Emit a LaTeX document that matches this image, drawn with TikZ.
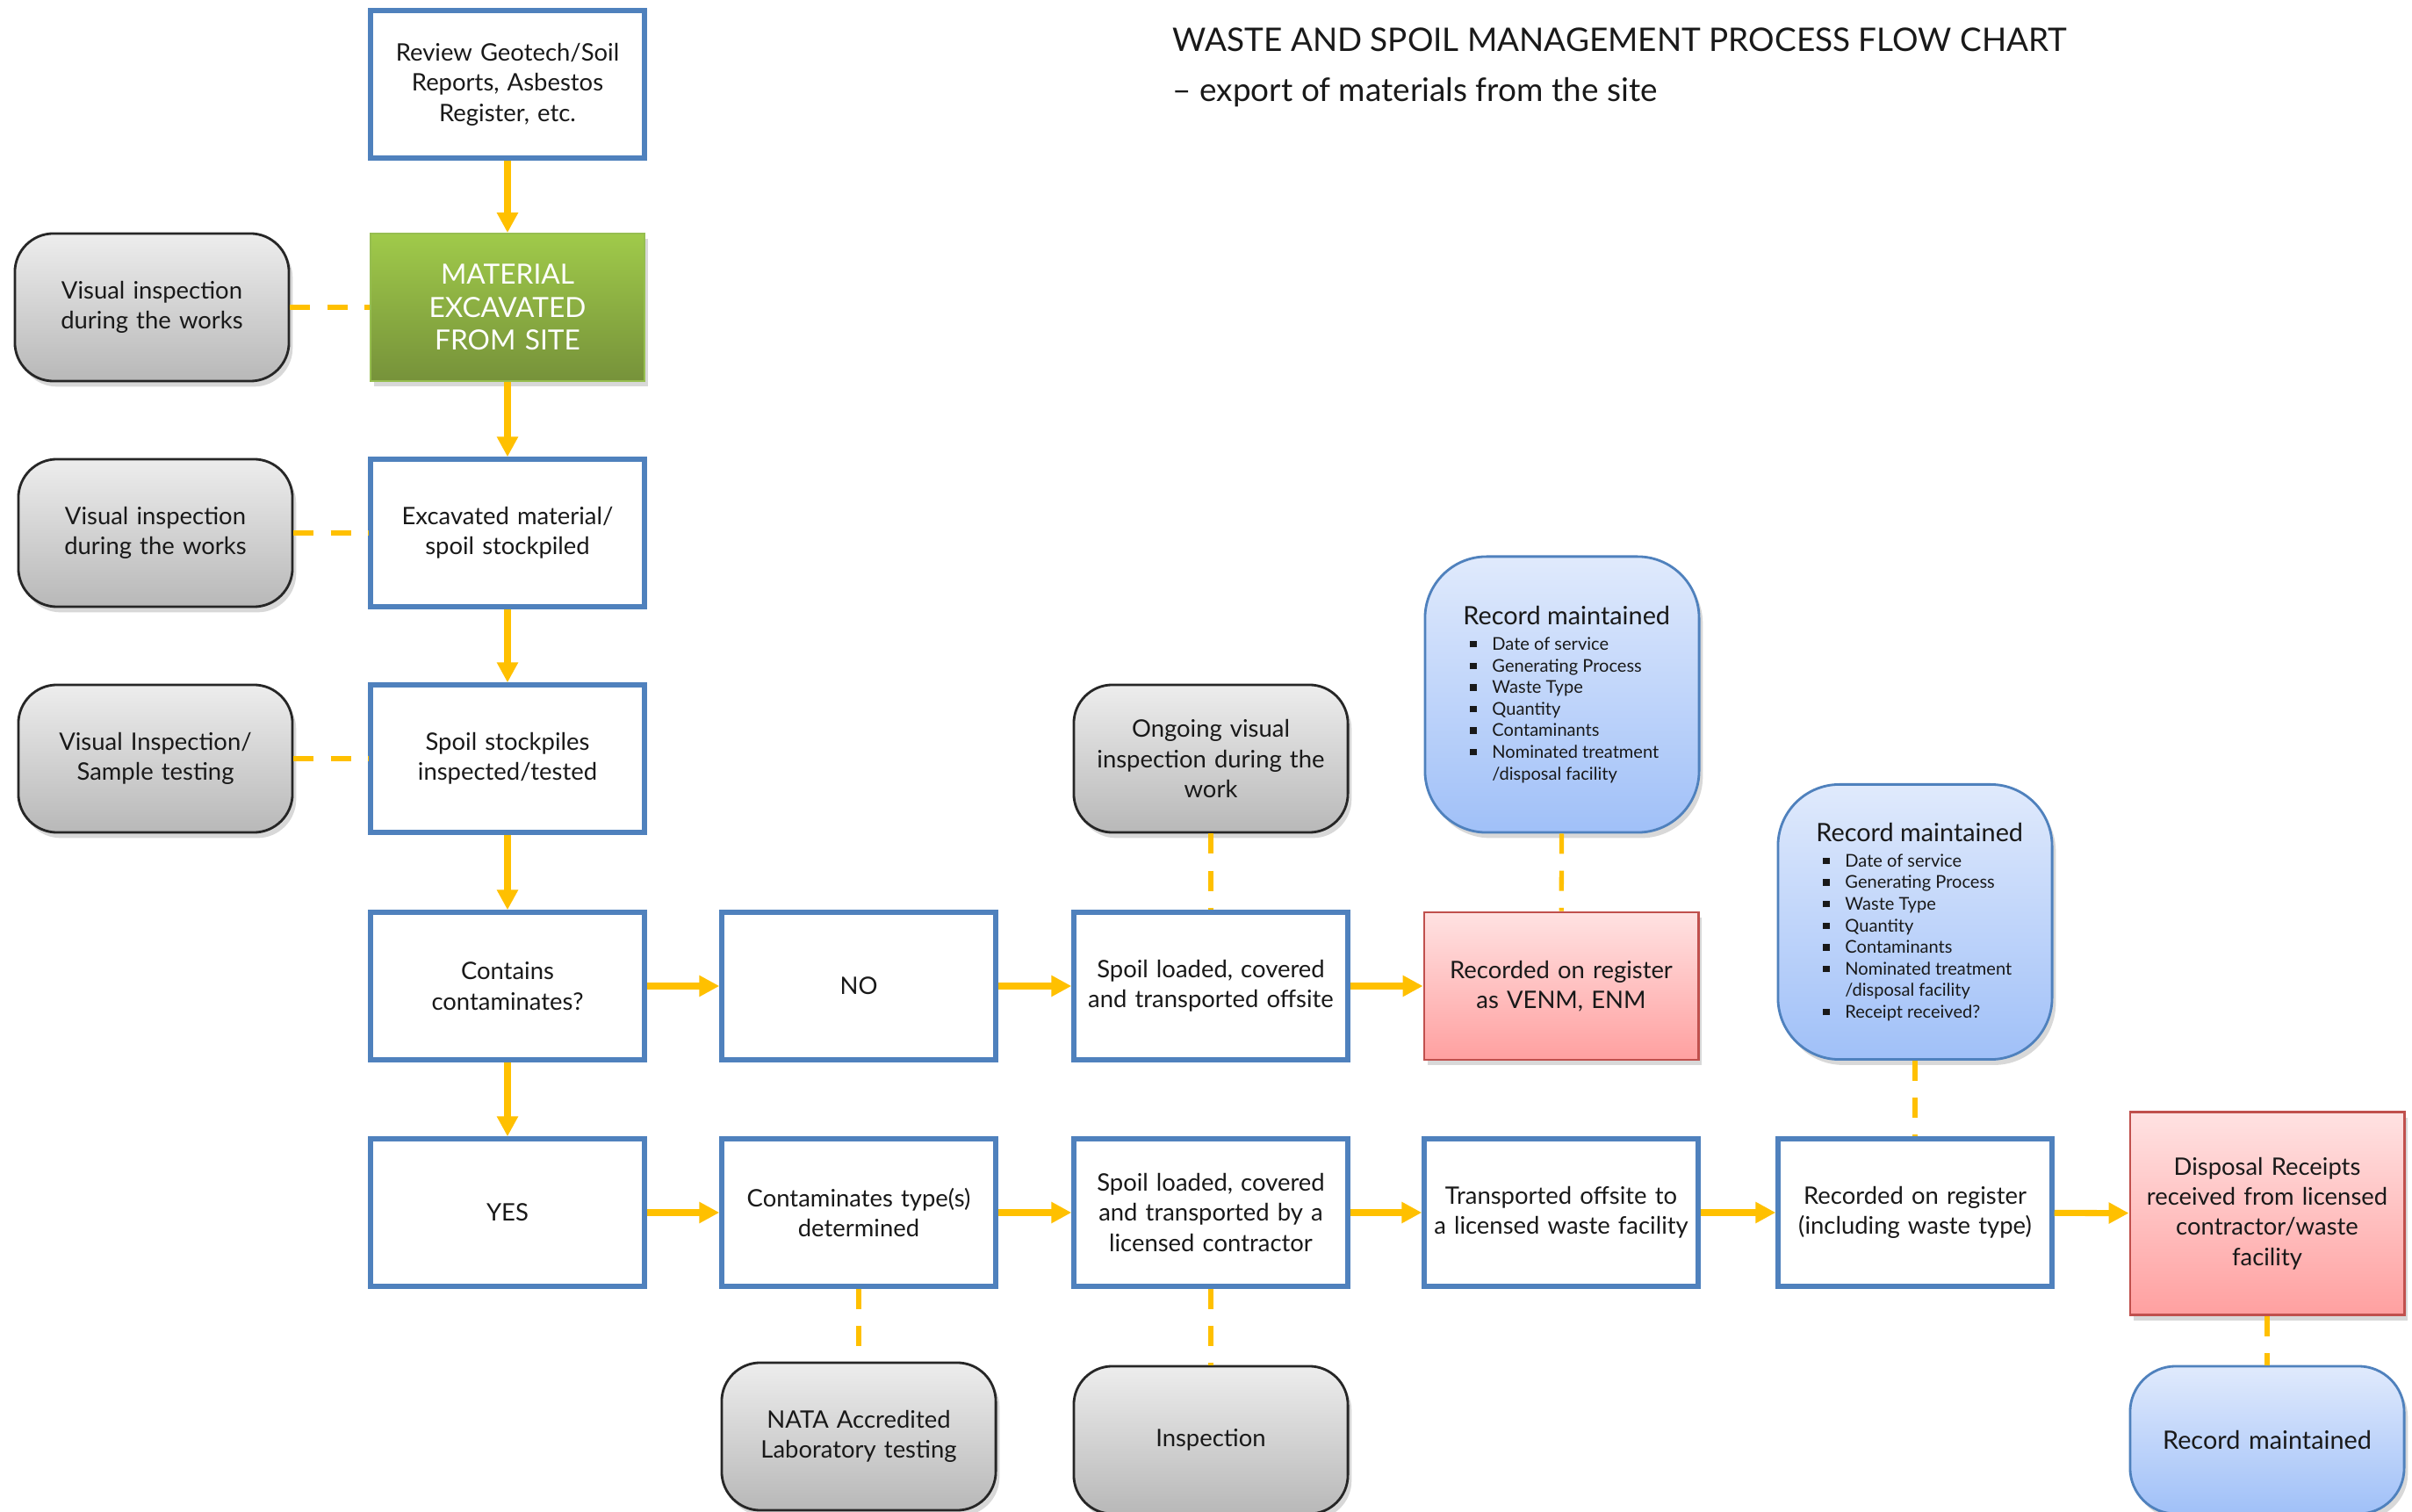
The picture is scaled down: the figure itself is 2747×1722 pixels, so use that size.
\documentclass[tikz,border=0pt]{standalone}
\usepackage{fontspec}
\setmainfont{Lato}
\usetikzlibrary{arrows.meta,shadows}
\definecolor{bord}{RGB}{79,129,189}
\definecolor{gold}{RGB}{255,192,0}
\definecolor{gtop}{RGB}{237,237,237}
\definecolor{gbot}{RGB}{184,184,184}
\definecolor{grtop}{RGB}{160,202,74}
\definecolor{grbot}{RGB}{118,146,58}
\definecolor{grbord}{RGB}{150,190,80}
\definecolor{bltop}{RGB}{224,234,252}
\definecolor{blbot}{RGB}{160,192,248}
\definecolor{rtop}{RGB}{255,226,226}
\definecolor{rbot}{RGB}{255,160,160}
\definecolor{rbord}{RGB}{192,80,77}
\definecolor{txt}{RGB}{25,25,25}
\newcommand\bitem[1]{\par\hangindent=0.33cm\hangafter=1\noindent\makebox[0.33cm][l]{\hspace{0.08cm}\rule[0.3ex]{2.1pt}{2.1pt}}#1}
\begin{document}
\begin{tikzpicture}[x=0.01cm,y=-0.01cm,
  base/.style={minimum width=3.12cm, minimum height=1.68cm, align=center,
    inner xsep=0.06cm, inner ysep=2pt, text=txt, font=\fontsize{7.8}{9.8}\selectfont},
  wbox/.style={base, text width=2.98cm, draw=bord, line width=1.5pt, fill=white},
  gbox/.style={base, text width=2.98cm, draw=black!85, line width=0.8pt, rounded corners=0.44cm,
    top color=gtop, bottom color=gbot,
    drop shadow={opacity=0.3, shadow xshift=1.2pt, shadow yshift=-1.8pt}},
  grbox/.style={base, text width=2.98cm, draw=grbord, line width=0.5pt, top color=grtop, bottom color=grbot,
    text=white, font=\fontsize{9}{10.6}\selectfont,
    drop shadow={opacity=0.3, shadow xshift=1.2pt, shadow yshift=-1.8pt}},
  rbox/.style={base, text width=2.98cm, draw=rbord, line width=0.8pt, top color=rtop, bottom color=rbot,
    drop shadow={opacity=0.3, shadow xshift=1.2pt, shadow yshift=-1.8pt}},
  bbox/.style={base, draw=bord, line width=0.8pt, top color=bltop, bottom color=blbot,
    font=\fontsize{8.2}{10}\selectfont,
    drop shadow={opacity=0.3, shadow xshift=1.2pt, shadow yshift=-1.8pt}},
  arr/.style={draw=gold, line width=2pt, -{Triangle[width=6.5pt,length=6.5pt]}},
  dsh/.style={draw=gold, line width=1.5pt, dash pattern=on 6.5pt off 5.5pt},
  ttl/.style={anchor=west, inner sep=0pt, text=txt, font=\fontsize{10.5}{12}\selectfont}
]
\useasboundingbox (0,0) rectangle (2747,1722);
\clip (0,0) rectangle (2747,1722);
\fill[white] (0,0) rectangle (2747,1722);

% titles
\node[ttl] (title) at (1335,45) {WASTE AND SPOIL MANAGEMENT PROCESS FLOW CHART};
\node[ttl] (sub) at (1335,105) {– export of materials from the site};

% column 1
\node[wbox] (review) at (578,96) {Review Geotech/Soil\\Reports, Asbestos\\Register, etc.};
\node[grbox] (mat) at (578,350) {MATERIAL\\EXCAVATED\\FROM SITE};
\node[wbox] (exc) at (578,607) {Excavated material/\\spoil stockpiled};
\node[wbox] (insp) at (578,864) {Spoil stockpiles\\inspected/tested};
\node[wbox] (cont) at (578,1123) {Contains\\contaminates?};
\node[wbox] (yes) at (578,1381) {YES};

% left grey boxes
\node[gbox] (vi1) at (173,350) {Visual inspection\\during the works};
\node[gbox] (vi2) at (177,607) {Visual inspection\\during the works};
\node[gbox] (vi3) at (177,864) {Visual Inspection/\\Sample testing};

% row NO
\node[wbox] (no) at (978,1123) {NO};
\node[wbox] (load1) at (1379,1123) {Spoil loaded, covered\\and transported offsite};
\node[rbox] (venm) at (1778,1123) {Recorded on register\\as VENM, ENM};
\node[gbox] (ongo) at (1379,864) {Ongoing visual\\inspection during the\\work};
\node[bbox, minimum height=3.14cm, rounded corners=0.7cm] (rec1) at (1779,791) {\parbox{2.25cm}{\raggedright\mbox{Record maintained}\par\vspace{1.2pt}\fontsize{5.7}{7}\selectfont
\bitem{Date of service}\bitem{Generating Process}\bitem{Waste Type}\bitem{Quantity}\bitem{Contaminants}\bitem{Nominated treatment\newline /disposal facility}}};

% row YES
\node[wbox] (ctype) at (978,1381) {Contaminates type(s)\\determined};
\node[wbox] (load2) at (1379,1381) {Spoil loaded, covered\\and transported by a\\licensed contractor};
\node[wbox] (trans) at (1778,1381) {Transported offsite to\\a licensed waste facility};
\node[wbox] (reg) at (2181,1381) {Recorded on register\\(including waste type)};
\node[bbox, minimum height=3.13cm, rounded corners=0.7cm] (rec2) at (2181,1050) {\parbox{2.25cm}{\raggedright\mbox{Record maintained}\par\vspace{1.2pt}\fontsize{5.7}{7}\selectfont
\bitem{Date of service}\bitem{Generating Process}\bitem{Waste Type}\bitem{Quantity}\bitem{Contaminants}\bitem{Nominated treatment\newline /disposal facility}\bitem{Receipt received?}}};
\node[rbox, minimum height=2.31cm] (disp) at (2582,1382) {Disposal Receipts\\received from licensed\\contractor/waste\\facility};
\node[bbox, text width=2.98cm, rounded corners=0.52cm] (rec3) at (2582,1640) {Record maintained};
\node[gbox] (nata) at (978,1636) {NATA Accredited\\Laboratory testing};
\node[gbox] (inspn) at (1379,1640) {Inspection};

% solid arrows
\draw[arr] (review) -- (mat);
\draw[arr] (mat) -- (exc);
\draw[arr] (exc) -- (insp);
\draw[arr] (insp) -- (cont);
\draw[arr] (cont) -- (yes);
\draw[arr] (cont) -- (no);
\draw[arr] (no) -- (load1);
\draw[arr] (load1) -- (venm);
\draw[arr] (yes) -- (ctype);
\draw[arr] (ctype) -- (load2);
\draw[arr] (load2) -- (trans);
\draw[arr] (trans) -- (reg);
\draw[arr] (reg) -- (disp);

% dashed links
\draw[dsh] (vi1) -- (mat);
\draw[dsh] (vi2) -- (exc);
\draw[dsh] (vi3) -- (insp);
\draw[dsh] (ongo) -- (load1);
\draw[dsh] (rec1) -- (venm);
\draw[dsh] (rec2) -- (reg);
\draw[dsh] (ctype) -- (nata);
\draw[dsh] (load2) -- (inspn);
\draw[dsh] (disp) -- (rec3);
\end{tikzpicture}
\end{document}
